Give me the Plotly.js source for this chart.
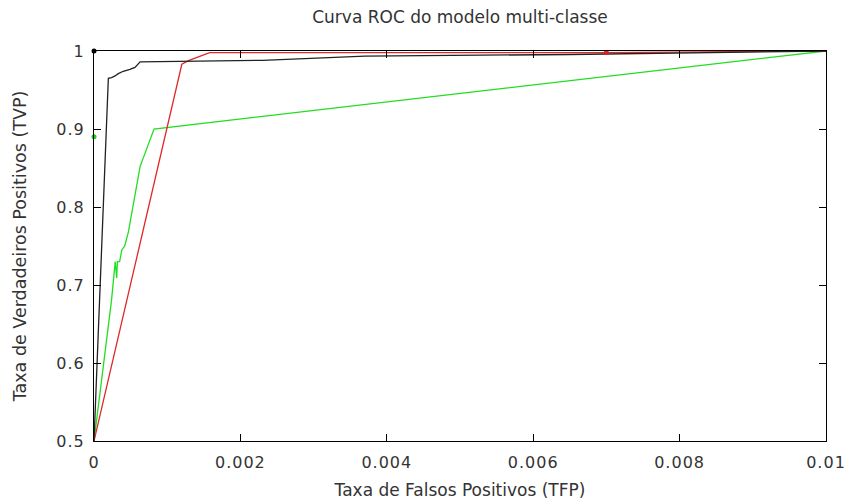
<!DOCTYPE html>
<html>
<head>
<meta charset="utf-8">
<script src="https://cdn.plot.ly/plotly-3.0.1.min.js"></script>
<style>
html,body{margin:0;padding:0;background:#fff;}
#chart .xtick text, #chart .ytick text { letter-spacing: 1px; }
</style>
</head>
<body>
<div id="chart" style="width:847px;height:501px;"></div>
<script>
// Black curve
const blackFPR = [0, 0.000196, 0.00024, 0.000287, 0.000332, 0.0004, 0.00049, 0.00056, 0.00063, 0.0023, 0.0037, 0.0065, 0.01];
const blackTPR = [0.5, 0.965, 0.966, 0.968, 0.971, 0.974, 0.9765, 0.979, 0.986, 0.988, 0.9935, 0.9955, 1.0];
// Red curve
const redFPR = [0, 0.0012, 0.00129, 0.00142, 0.00152, 0.00158, 0.007, 0.01];
const redTPR = [0.5, 0.983, 0.9876, 0.9927, 0.996, 0.998, 0.998, 1.0];
// Green curve
const greenFPR = [0, 0.00024, 0.00029, 0.00031, 0.00032, 0.00035, 0.00038, 0.00042, 0.00047, 0.00063, 0.00067, 0.00082, 0.01];
const greenTPR = [0.5, 0.681, 0.73, 0.709, 0.73, 0.73, 0.745, 0.75, 0.768, 0.852, 0.862, 0.900, 1.0];
// Single points
const pointFPR = [0, 0, 0.007];
const pointTPR = [1.0, 0.89, 0.998];
const pointColors = ['#000000', '#22cc22', '#dd2020'];

const xTicks = [0, 0.002, 0.004, 0.006, 0.008, 0.01];
const xTickText = ['0', '0.002', '0.004', '0.006', '0.008', '0.01'];
const yTicks = [0.5, 0.6, 0.7, 0.8, 0.9, 1];
const yTickText = ['0.5', '0.6', '0.7', '0.8', '0.9', '1'];

const traces = [
  {x: greenFPR, y: greenTPR, mode: 'lines', line: {color: '#22dd22', width: 1.3}, showlegend: false},
  {x: redFPR, y: redTPR, mode: 'lines', line: {color: '#e02828', width: 1.3}, showlegend: false},
  {x: blackFPR, y: blackTPR, mode: 'lines', line: {color: '#222222', width: 1.3}, showlegend: false},
  {x: pointFPR, y: pointTPR, mode: 'markers', marker: {color: pointColors, size: 5}, cliponaxis: false, showlegend: false}
];

const tickFont = {family: 'DejaVu Sans, sans-serif', size: 16, color: '#333'};
const layout = {
  width: 847, height: 501,
  margin: {l: 94, r: 21, t: 51, b: 60},
  paper_bgcolor: '#fff', plot_bgcolor: '#fff',
  title: {text: 'Curva ROC do modelo multi-classe', font: {family: 'DejaVu Sans, sans-serif', size: 17, color: '#333'}, xref: 'paper', x: 0.5, xanchor: 'center', y: 0.965, yanchor: 'middle'},
  xaxis: {
    range: [0, 0.01], tickvals: xTicks, ticktext: xTickText,
    ticks: 'inside', ticklen: 7, tickcolor: '#000', tickwidth: 1,
    showline: true, linecolor: '#000', linewidth: 1, mirror: 'ticks',
    showgrid: false, zeroline: false, tickfont: tickFont, ticklabelstandoff: 7,
    title: {text: 'Taxa de Falsos Positivos (TFP)', font: {family: 'DejaVu Sans, sans-serif', size: 17, color: '#333'}, standoff: 12}
  },
  yaxis: {
    range: [0.5, 1], tickvals: yTicks, ticktext: yTickText,
    ticks: 'inside', ticklen: 7, tickcolor: '#000', tickwidth: 1,
    showline: true, linecolor: '#000', linewidth: 1, mirror: 'ticks',
    showgrid: false, zeroline: false, tickfont: tickFont, ticklabelstandoff: 5,
    title: {text: 'Taxa de Verdadeiros Positivos (TVP)', font: {family: 'DejaVu Sans, sans-serif', size: 17.5, color: '#333'}, standoff: 28}
  }
};

Plotly.newPlot('chart', traces, layout, {displayModeBar: false, staticPlot: true});
</script>
</body>
</html>
